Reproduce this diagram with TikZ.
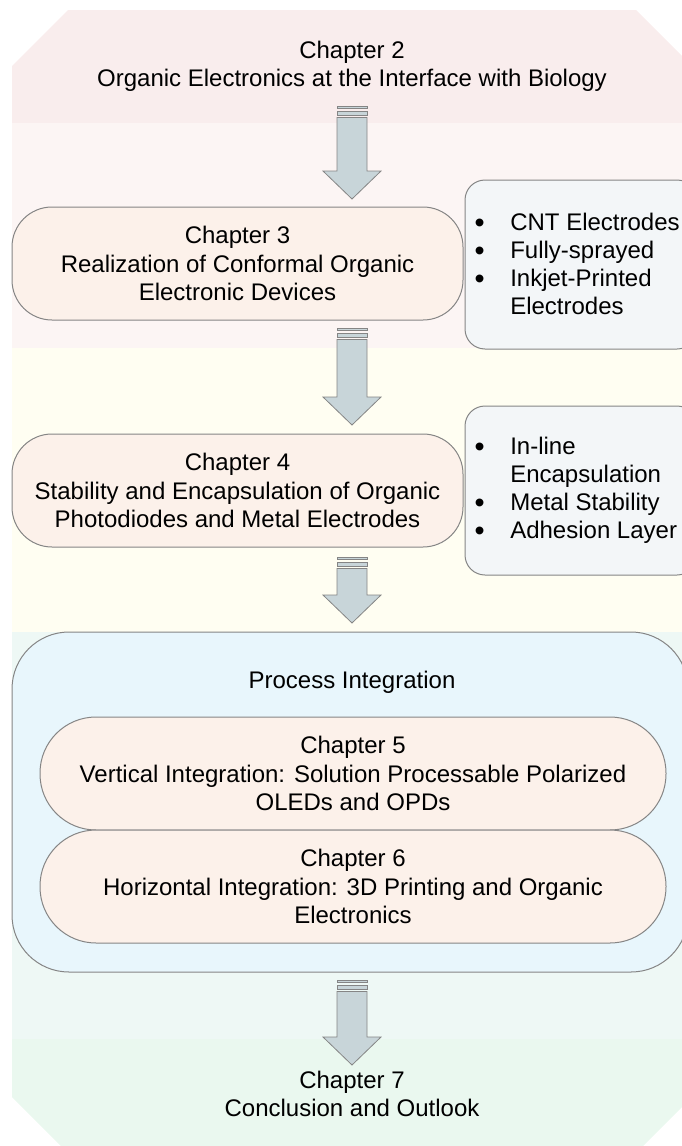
\documentclass[tikz,border=0pt]{standalone}
\usepackage{fontspec}
\setmainfont{Liberation Sans}
\definecolor{bandA}{HTML}{F9EDED}
\definecolor{bandB}{HTML}{FCF5F4}
\definecolor{bandC}{HTML}{FFFEF2}
\definecolor{bandD}{HTML}{EEF8F5}
\definecolor{bandE}{HTML}{EAF8EF}
\definecolor{peach}{HTML}{FCF1EA}
\definecolor{sidefill}{HTML}{F3F6F8}
\definecolor{procfill}{HTML}{E8F6FC}
\definecolor{arrowfill}{HTML}{C8D5D9}
\definecolor{edge}{HTML}{858585}
\newcommand\chfont{\fontsize{24}{28.5}\selectfont}
\newcommand\sidefont{\fontsize{24}{28}\selectfont}
\newcommand\bigbullet{\smash{\raisebox{-2pt}{\scalebox{1.2}{\textbullet}}}}
\newcommand\blockarrow[2]{%
  \filldraw[arrowstyle] (337,#1) rectangle (367,#1+2.5);
  \filldraw[arrowstyle] (337,#1+5) rectangle (367,#1+9.5);
  \filldraw[arrowstyle] (337,#1+11.5) -- (367,#1+11.5) -- (367,#2-28) -- (381,#2-28)
     -- (352,#2) -- (323,#2-28) -- (337,#2-28) -- cycle;}
\begin{document}
\begin{tikzpicture}[x=1pt,y=-1pt,
  chbox/.style={draw=edge, line width=1pt, fill=peach, rounded corners=40pt,
    align=center, font=\chfont, inner sep=0pt},
  stadium/.style={chbox, rounded corners=56pt, minimum width=626pt, minimum height=113pt},
  sidebox/.style={draw=edge, line width=1pt, fill=sidefill, rounded corners=20pt, inner sep=0pt},
  procbox/.style={draw=edge, line width=1pt, fill=procfill, rounded corners=57pt, inner sep=0pt},
  plaintext/.style={align=center, font=\chfont, inner sep=0pt},
  sidetext/.style={font=\sidefont, inner sep=0pt, anchor=base west},
  arrowstyle/.style={draw=edge, line width=0.8pt, fill=arrowfill, line join=miter}]
\useasboundingbox (0,0) rectangle (681,1146);
% background octagon with bands
\begin{scope}
  \clip (12,66) -- (68,10) -- (636,10) -- (692,66) -- (692,1097) -- (636,1153)
        -- (68,1153) -- (12,1097) -- cycle;
  \fill[bandA] (0,0) rectangle (700,123);
  \fill[bandB] (0,123) rectangle (700,348);
  \fill[bandC] (0,348) rectangle (700,632);
  \fill[bandD] (0,632) rectangle (700,1039);
  \fill[bandE] (0,1039) rectangle (700,1160);
\end{scope}
% chapter 2
\node[plaintext] (ch2) at (352,66.4) {Chapter 2\\Organic Electronics at the Interface with Biology};
\blockarrow{106}{199}
% chapter 3
\node[chbox, minimum width=451pt, minimum height=113pt] (ch3) at (237.5,263.5)
  {Chapter 3\\Realization of Conformal Organic\\Electronic Devices};
\node[sidebox, minimum width=232pt, minimum height=169pt] (s3) at (581,264.5) {};
\node[sidetext] (s3t) at (474.5,230) {\begin{tabular}[t]{@{}l@{\hspace{25.5pt}}l@{}}
  \bigbullet & CNT Electrodes\\ \bigbullet & Fully-sprayed\\
  \bigbullet & Inkjet-Printed\\ & Electrodes\end{tabular}};
\blockarrow{328}{425}
% chapter 4
\node[chbox, minimum width=451pt, minimum height=113pt] (ch4) at (237.5,490.5)
  {Chapter 4\\Stability and Encapsulation of Organic\\Photodiodes and Metal Electrodes};
\node[sidebox, minimum width=232pt, minimum height=169pt] (s4) at (581,490.5) {};
\node[sidetext] (s4t) at (474.5,454) {\begin{tabular}[t]{@{}l@{\hspace{25.5pt}}l@{}}
  \bigbullet & In-line\\ & Encapsulation\\
  \bigbullet & Metal Stability\\ \bigbullet & Adhesion Layer\end{tabular}};
\blockarrow{557}{623}
% process integration
\node[procbox, minimum width=676pt, minimum height=340pt] (proc) at (350,802) {};
\node[font=\chfont, inner sep=0pt, anchor=base] (proct) at (352,688) {Process Integration};
\node[stadium] (ch5) at (353,773.5)
  {Chapter 5\\Vertical Integration: Solution Processable Polarized\\OLEDs and OPDs};
\node[stadium] (ch6) at (353,886.5)
  {Chapter 6\\Horizontal Integration: 3D Printing and Organic\\Electronics};
\blockarrow{980}{1065}
% chapter 7
\node[plaintext] (ch7) at (352,1093.9) {Chapter 7\\Conclusion and Outlook};
\end{tikzpicture}
\end{document}
